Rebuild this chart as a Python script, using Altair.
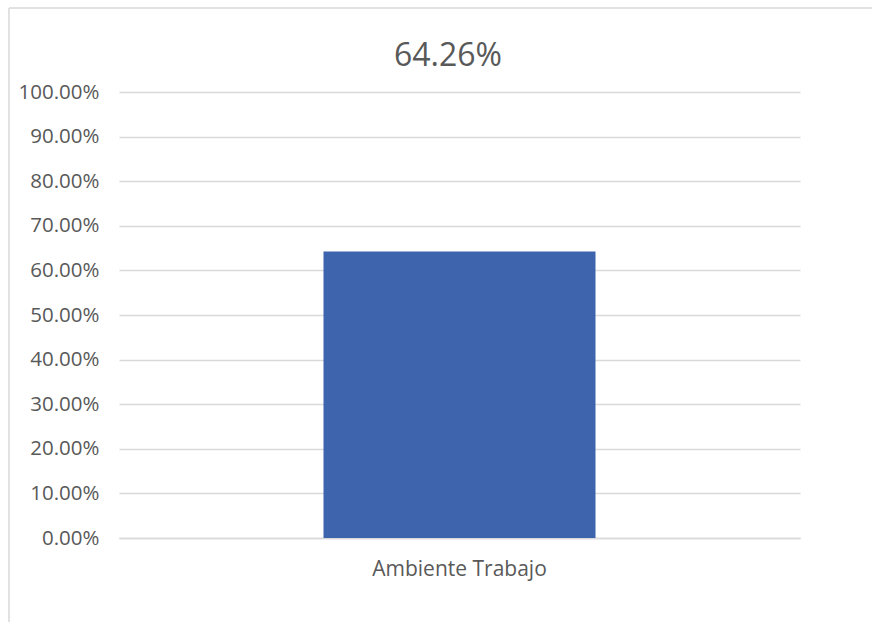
import altair as alt
import pandas as pd

categories = ["Ambiente Trabajo"]
values = [0.6426]
y_ticks = [0, 0.1, 0.2, 0.3, 0.4, 0.5, 0.6, 0.7, 0.8, 0.9, 1.0]
title_text = f"{values[0]:.2%}"

df = pd.DataFrame({"cat": categories, "val": values})

TEXT = "#595959"
GRID = "#D9D9D9"
FONT = "Open Sans"

bar = alt.Chart(df).mark_bar(size=272, color="#3D64AD").encode(
    x=alt.X("cat:N", title=None,
            axis=alt.Axis(labelAngle=0, ticks=False, domain=True, domainColor=GRID,
                          domainWidth=1.5, labelFont=FONT, labelFontSize=21,
                          labelColor=TEXT, labelPadding=20, grid=False)),
    y=alt.Y("val:Q", title=None,
            scale=alt.Scale(domain=[0, 1], nice=False),
            axis=alt.Axis(values=y_ticks, format=".2%", ticks=False, domain=False,
                          gridColor=GRID, gridWidth=1.5, labelFont=FONT,
                          labelFontSize=20.5, labelColor=TEXT, labelPadding=20)),
)

title_mark = alt.Chart(df).mark_text(
    font=FONT, fontSize=32, color=TEXT, align="center", baseline="alphabetic"
).encode(x=alt.value(329), y=alt.value(-26), text=alt.value(title_text))

border_left = alt.Chart(df).mark_rule(color=GRID, strokeWidth=1.5).encode(
    x=alt.value(-110), y=alt.value(-84), y2=alt.value(560)
)
border_top = alt.Chart(df).mark_rule(color=GRID, strokeWidth=1.5).encode(
    x=alt.value(-110), x2=alt.value(760), y=alt.value(-84)
)

chart = alt.layer(bar, border_left, border_top, title_mark).properties(
    width=681,
    height=446,
    autosize=alt.AutoSizeParams(type="none"),
    padding={"left": 119, "top": 92, "right": 72, "bottom": 84},
).configure_view(stroke=None)

chart.save("out.html", embed_options={"renderer": "svg", "actions": False})
